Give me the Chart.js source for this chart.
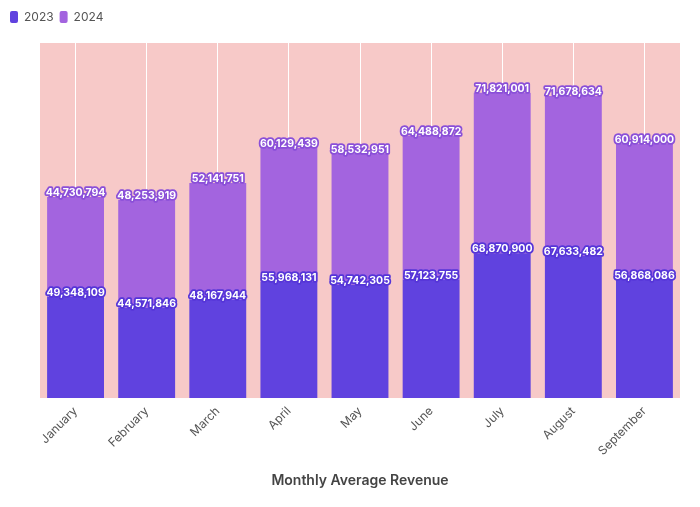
<!DOCTYPE html>
<html>
<head>
<meta charset="utf-8">
<script src="https://cdn.jsdelivr.net/npm/chart.js@4.4.1/dist/chart.umd.min.js"></script>
<style>
    html, body { margin: 0; padding: 0; background: #fff; }
    #wrap { width: 700px; height: 507px; }
</style>
</head>
<body>
<div id="wrap"><canvas id="revenueChart"></canvas></div>
<script>
// Chart data
const months = ['January', 'February', 'March', 'April', 'May', 'June', 'July', 'August', 'September'];
const revenue2023 = [49348109, 44571846, 48167944, 55968131, 54742305, 57123755, 68870900, 67633482, 56868086];
const revenue2024 = [44730794, 48253919, 52141751, 60129439, 58532951, 64488872, 71821001, 71678634, 60914000];

const COLORS = {
    y2023: '#6042df',
    y2024: '#a364df',
    stroke2023: '#5535d8',
    stroke2024: '#8a4fd8',
    plotBg: '#f7c9c8'
};

// Pink plot background
const plotBackground = {
    id: 'plotBackground',
    beforeDraw(chart) {
        const { ctx, chartArea: a } = chart;
        ctx.save();
        ctx.fillStyle = COLORS.plotBg;
        ctx.fillRect(a.left, a.top, a.right - a.left, a.bottom - a.top);
        ctx.restore();
    }
};

// Extra space under the legend
const legendMargin = {
    id: 'legendMargin',
    beforeInit(chart) {
        const fit = chart.legend.fit;
        chart.legend.fit = function () {
            fit.bind(chart.legend)();
            this.height += 10;
        };
    }
};

// Outlined value labels at the top of each segment
const valueLabels = {
    id: 'valueLabels',
    afterDatasetsDraw(chart) {
        const ctx = chart.ctx;
        ctx.save();
        ctx.font = '700 10.5px Inter';
        ctx.textAlign = 'center';
        ctx.textBaseline = 'middle';
        ctx.lineJoin = 'round';
        chart.data.datasets.forEach((ds, i) => {
            const meta = chart.getDatasetMeta(i);
            meta.data.forEach((bar, j) => {
                const text = ds.data[j].toLocaleString('en-US');
                const y = bar.y - 4;
                ctx.lineWidth = 3.5;
                ctx.strokeStyle = i === 0 ? COLORS.stroke2023 : COLORS.stroke2024;
                ctx.strokeText(text, bar.x, y);
                ctx.fillStyle = '#fff';
                ctx.fillText(text, bar.x, y);
            });
        });
        ctx.restore();
    }
};

const ctx = document.getElementById('revenueChart').getContext('2d');
const chart = new Chart(ctx, {
    type: 'bar',
    data: {
        labels: months,
        datasets: [
            { label: '2023', data: revenue2023, backgroundColor: COLORS.y2023 },
            { label: '2024', data: revenue2024, backgroundColor: COLORS.y2024 }
        ]
    },
    options: {
        responsive: true,
        maintainAspectRatio: false,
        animation: false,
        layout: { padding: { left: 4, right: 20, top: 5, bottom: 14 } },
        datasets: {
            bar: { barPercentage: 0.8, categoryPercentage: 1 }
        },
        plugins: {
            legend: {
                position: 'top',
                align: 'start',
                labels: {
                    boxWidth: 8,
                    boxHeight: 12,
                    useBorderRadius: true,
                    borderRadius: 2,
                    color: '#555',
                    font: { family: 'Inter', size: 12 },
                    padding: 6
                }
            },
            tooltip: { enabled: false }
        },
        scales: {
            x: {
                stacked: true,
                grid: { offset: false, color: '#ffffff', lineWidth: 1, drawTicks: false },
                border: { display: false },
                ticks: {
                    color: '#555',
                    font: { family: 'Inter', size: 12 },
                    maxRotation: 45,
                    minRotation: 45,
                    padding: 6
                },
                title: {
                    display: true,
                    text: 'Monthly Average Revenue',
                    color: '#444',
                    font: { family: 'Inter', size: 14, weight: '600' },
                    padding: { top: 8 }
                }
            },
            y: {
                stacked: true,
                min: 4000000,
                max: 163000000,
                grid: { display: false },
                border: { display: false },
                ticks: { display: false },
                afterFit(scale) { scale.width = 36; }
            }
        }
    },
    plugins: [plotBackground, legendMargin, valueLabels]
});
</script>
</body>
</html>
